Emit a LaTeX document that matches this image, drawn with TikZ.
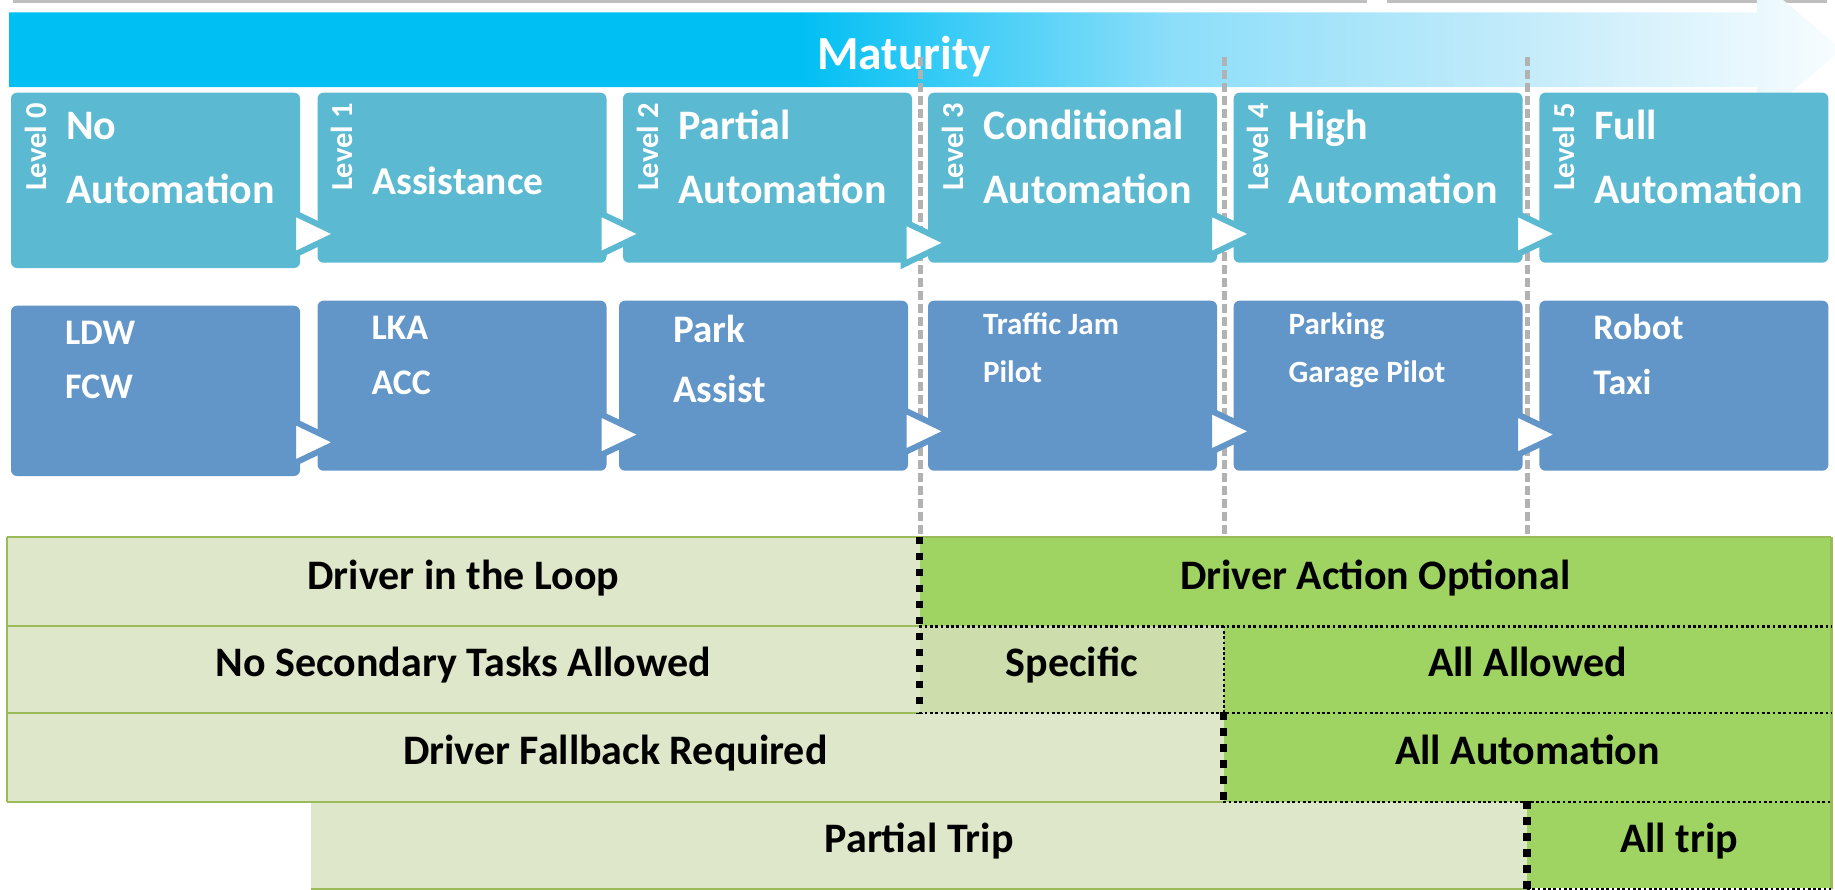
\documentclass[tikz,border=0pt]{standalone}
\usepackage{fontspec}
\setmainfont{Carlito}
\usetikzlibrary{calc}

\definecolor{matA}{RGB}{0,191,243}
\definecolor{matB}{RGB}{140,222,250}
\definecolor{matC}{RGB}{195,235,250}
\definecolor{matD}{RGB}{248,253,255}
\definecolor{levelcol}{RGB}{91,185,209}
\definecolor{usecol}{RGB}{98,150,200}
\definecolor{cellpale}{RGB}{222,231,201}
\definecolor{cellmid}{RGB}{205,221,172}
\definecolor{cellbright}{RGB}{160,212,98}
\definecolor{cellrule}{RGB}{155,187,89}
\definecolor{guide}{RGB}{178,178,178}
\definecolor{topbar}{RGB}{191,191,191}

% fading fill of the maturity arrow (25bp..75bp span the arrow's width)
\pgfdeclarehorizontalshading{maturityfade}{100bp}{color(0bp)=(matA); color(46.5bp)=(matA); color(56.7bp)=(matB); color(66.2bp)=(matC); color(75bp)=(matD); color(100bp)=(matD)}

\newcommand{\fs}[1]{\fontsize{#1pt}{#1pt}\selectfont\bfseries}
% white process chevron sitting on the left edge of the next box
\newcommand{\stagearrow}[2]{\draw[stagetip=#2] ($(#1)+(-24,-21.5)$) -- ($(#1)+(21,0)$) -- ($(#1)+(-24,21.5)$) -- cycle;}

\tikzset{
  lvlbox/.style={fill=levelcol, rounded corners=3pt, inner sep=0pt, minimum width=144.5pt, minimum height=85pt},
  usebox/.style={fill=usecol, rounded corners=3pt, inner sep=0pt, minimum width=144.5pt, minimum height=85pt},
  boxtxt/.style={text=white, anchor=base west, inner sep=0pt},
  lvltxt/.style={text=white, rotate=90, anchor=base west, inner sep=0pt, font=\fs{15.25}},
  stagetip/.style={fill=white, draw=#1, line width=3pt, line join=miter},
  cell/.style={inner sep=0pt, text height=13.5pt, text depth=5.9pt, font=\fs{21}, text=black},
  rulegreen/.style={draw=cellrule, line width=1.1pt},
  ruledot/.style={draw=black, line width=1.2pt, dash pattern=on 1.35pt off 1.3pt},
  ruledash/.style={draw=black, line width=3.75pt, dash pattern=on 3.8pt off 4.2pt},
  guideline/.style={draw=guide, line width=2.5pt, dash pattern=on 4.7pt off 1.8pt},
}

\begin{document}
\begin{tikzpicture}[x=0.5pt, y=-0.5pt]
\useasboundingbox (0,0) rectangle (1835,889);
\clip (0,0) rectangle (1835,889);

% thin grey strip along the top edge
\fill[topbar] (13,0) rectangle (1367,2.5);
\fill[topbar] (1387,0) rectangle (1827,2.5);

% maturity arrow
\path[shading=maturityfade] (9,12.3) -- (1757,12.3) -- (1757,-22) -- (1842,49.7)
  -- (1757,121) -- (1757,87) -- (9,87) -- cycle;
\node[text=white, font=\fs{23.75}, anchor=base, inner sep=0pt] (mattxt) at (904,69) {Maturity};

% table of driver roles
\node[cell, fill=cellpale,   minimum width=456.35pt, minimum height=44.5pt]  (c1) at (463.35,581.5) {Driver in the Loop};
\node[cell, fill=cellbright, minimum width=455.65pt, minimum height=44.5pt]  (c2) at (1375.35,581.5) {Driver Action Optional};
\node[cell, fill=cellpale,   minimum width=456.35pt, minimum height=43.35pt] (c3) at (463.35,669.35) {No Secondary Tasks Allowed};
\node[cell, fill=cellmid,    minimum width=152.05pt, minimum height=43.35pt] (c4) at (1071.75,669.35) {Specific};
\node[cell, fill=cellbright, minimum width=303.6pt,  minimum height=43.35pt] (c5) at (1527.4,669.35) {All Allowed};
\node[cell, fill=cellpale,   minimum width=608.4pt,  minimum height=44.5pt]  (c6) at (615.4,757.2) {Driver Fallback Required};
\node[cell, fill=cellbright, minimum width=303.6pt,  minimum height=44.5pt]  (c7) at (1527.4,757.2) {All Automation};
\node[cell, fill=cellpale,   minimum width=608.15pt, minimum height=43.3pt]  (c8) at (919.15,845) {Partial Trip};
\node[cell, fill=cellbright, minimum width=151.85pt, minimum height=43.3pt]  (c9) at (1679.15,845) {All trip};

% solid green rules
\draw[rulegreen] (c1.north west) -- (c2.north east);
\draw[rulegreen] (c1.north west) -- (c6.south west);
\draw[rulegreen] (c2.north east) -- (c9.south east);
\draw[rulegreen] (c3.north west) -- (c3.north east);
\draw[rulegreen] (c3.south west) -- (c3.south east);
\draw[rulegreen] (c6.south west) -- (c6.south east);
\draw[rulegreen] (c8.south west) -- (c8.south east);
% dotted rules around the optional cells
\draw[ruledot] (c2.south west) -- (c2.south east);
\draw[ruledot] (c4.south west) -- (c5.south east);
\draw[ruledot] (c7.south west) -- (c7.south east);
\draw[ruledot] (c9.south west) -- (c9.south east);
\draw[ruledot] (c4.north east) -- (c4.south east);
% heavy dashed borders
\draw[ruledash] (c2.north west) -- (c4.south west);
\draw[ruledash] (c7.north west) -- (c7.south west);
\draw[ruledash] (c9.north west) -- (c9.south west);

% grey guides between levels
\coordinate (g1) at (920,57);
\coordinate (g2) at (1224.3,57);
\coordinate (g3) at (1527.2,57);
\draw[guideline] (g1) -- (g1 |- c2.north);
\draw[guideline] (g2) -- (g2 |- c2.north);
\draw[guideline] (g3) -- (g3 |- c2.north);

% automation levels
\node[lvlbox, minimum height=87.65pt] (u0) at (155.5,180.35) {};
\node[lvlbox] (u1) at (462,177.7) {};
\node[lvlbox] (u2) at (767.5,177.7) {};
\node[lvlbox] (u3) at (1072.5,177.7) {};
\node[lvlbox] (u4) at (1378.1,177.7) {};
\node[lvlbox] (u5) at (1683.9,177.7) {};

% example functions
\node[usebox, minimum height=85.15pt] (l0) at (155.5,390.85) {};
\node[usebox] (l1) at (462,385.7) {};
\node[usebox] (l2) at (763.5,385.7) {};
\node[usebox] (l3) at (1072.5,385.7) {};
\node[usebox] (l4) at (1378.1,385.7) {};
\node[usebox] (l5) at (1683.9,385.7) {};

% chevrons between consecutive boxes
\coordinate (ua1) at ($(u1.north west)+(0,141.6)$);
\coordinate (ua2) at ($(u2.north west)+(0,141.6)$);
\coordinate (ua3) at ($(u3.north west)+(0,150.6)$);
\coordinate (ua4) at ($(u4.north west)+(0,141.6)$);
\coordinate (ua5) at ($(u5.north west)+(0,141.6)$);
\coordinate (la1) at ($(l1.north west)+(0,142)$);
\coordinate (la2) at ($(u2.north west |- l2.north)+(0,134.3)$);
\coordinate (la3) at ($(l3.north west)+(0,131)$);
\coordinate (la4) at ($(l4.north west)+(0,131)$);
\coordinate (la5) at ($(l5.north west)+(0,134.3)$);
\stagearrow{ua1}{levelcol}
\stagearrow{ua2}{levelcol}
\stagearrow{ua3}{levelcol}
\stagearrow{ua4}{levelcol}
\stagearrow{ua5}{levelcol}
\stagearrow{la1}{usecol}
\stagearrow{la2}{usecol}
\stagearrow{la3}{usecol}
\stagearrow{la4}{usecol}
\stagearrow{la5}{usecol}

% level captions
\node[lvltxt] (u0l) at ($(u0.north west)+(35.5,99)$) {Level 0};
\node[lvltxt] (u1l) at ($(u1.north west)+(35.5,99)$) {Level 1};
\node[lvltxt] (u2l) at ($(u2.north west)+(35.5,99)$) {Level 2};
\node[lvltxt] (u3l) at ($(u3.north west)+(35.5,99)$) {Level 3};
\node[lvltxt] (u4l) at ($(u4.north west)+(35.5,99)$) {Level 4};
\node[lvltxt] (u5l) at ($(u5.north west)+(35.5,99)$) {Level 5};

% level names
\node[boxtxt, font=\fs{21}] (u0a) at ($(u0.north west)+(55,47.3)$) {No};
\node[boxtxt, font=\fs{21}] (u0b) at ($(u0.north west)+(55,111.3)$) {Automation};
\node[boxtxt, font=\fs{19.75}] (u1a) at ($(u1.north west)+(55,102.3)$) {Assistance};
\node[boxtxt, font=\fs{21}] (u2a) at ($(u2.north west)+(55,47.3)$) {Partial};
\node[boxtxt, font=\fs{21}] (u2b) at ($(u2.north west)+(55,111.3)$) {Automation};
\node[boxtxt, font=\fs{21}] (u3a) at ($(u3.north west)+(55,47.3)$) {Conditional};
\node[boxtxt, font=\fs{21}] (u3b) at ($(u3.north west)+(55,111.3)$) {Automation};
\node[boxtxt, font=\fs{21}] (u4a) at ($(u4.north west)+(55,47.3)$) {High};
\node[boxtxt, font=\fs{21}] (u4b) at ($(u4.north west)+(55,111.3)$) {Automation};
\node[boxtxt, font=\fs{21}] (u5a) at ($(u5.north west)+(55,47.3)$) {Full};
\node[boxtxt, font=\fs{21}] (u5b) at ($(u5.north west)+(55,111.3)$) {Automation};

% example names
\node[boxtxt, font=\fs{18}] (l0a) at ($(l0.north west)+(54,39.3)$) {LDW};
\node[boxtxt, font=\fs{18}] (l0b) at ($(l0.north west)+(54,93.6)$) {FCW};
\node[boxtxt, font=\fs{18}] (l1a) at ($(l1.north west)+(54,39.3)$) {LKA};
\node[boxtxt, font=\fs{18}] (l1b) at ($(l1.north west)+(54,94)$) {ACC};
\node[boxtxt, font=\fs{19.5}] (l2a) at ($(l2.north west)+(54,42.6)$) {Park};
\node[boxtxt, font=\fs{19.5}] (l2b) at ($(l2.north west)+(54,102)$) {Assist};
\node[boxtxt, font=\fs{15.5}] (l3a) at ($(l3.north west)+(55,34.3)$) {Traffic Jam};
\node[boxtxt, font=\fs{15.5}] (l3b) at ($(l3.north west)+(55,82)$) {Pilot};
\node[boxtxt, font=\fs{15.5}] (l4a) at ($(l4.north west)+(55,34.3)$) {Parking};
\node[boxtxt, font=\fs{15.5}] (l4b) at ($(l4.north west)+(55,82)$) {Garage Pilot};
\node[boxtxt, font=\fs{18}] (l5a) at ($(l5.north west)+(54,39.3)$) {Robot};
\node[boxtxt, font=\fs{18}] (l5b) at ($(l5.north west)+(54,94)$) {Taxi};
\end{tikzpicture}
\end{document}
